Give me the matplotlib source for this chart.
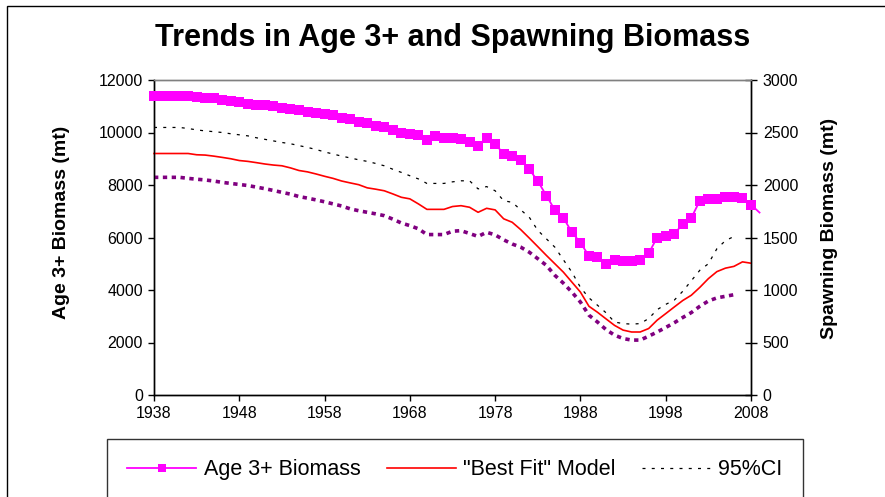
import matplotlib
matplotlib.use("Agg")
import matplotlib.pyplot as plt
from matplotlib.lines import Line2D
from matplotlib.patches import Rectangle
import numpy as np

plt.rcParams['font.family'] = ['Liberation Sans', 'DejaVu Sans']

# ---------------- data ----------------
title = "Trends in Age 3+ and Spawning Biomass"
left_label = "Age 3+ Biomass (mt)"
right_label = "Spawning Biomass (mt)"
x_ticks = [1938, 1948, 1958, 1968, 1978, 1988, 1998, 2008]
left_ticks = [0, 2000, 4000, 6000, 8000, 10000, 12000]
right_ticks = [0, 500, 1000, 1500, 2000, 2500, 3000]

age3_years = list(range(1938, 2010))
age3_biomass = [11400, 11400, 11400, 11400, 11400, 11350, 11300, 11300, 11250, 11200,
                11150, 11100, 11050, 11050, 11000, 10950, 10900, 10850, 10800, 10750,
                10700, 10650, 10550, 10500, 10400, 10350, 10250, 10200, 10100, 10000,
                9950, 9900, 9700, 9850, 9800, 9800, 9750, 9650, 9500, 9800,
                9550, 9200, 9100, 8950, 8600, 8150, 7600, 7050, 6750, 6200,
                5800, 5300, 5250, 5000, 5150, 5100, 5100, 5150, 5400, 6000,
                6050, 6150, 6500, 6750, 7400, 7450, 7450, 7550, 7550, 7500,
                7250, 6950]

model_years = list(range(1938, 2009))
best_fit = [2300, 2300, 2300, 2300, 2300, 2288, 2285, 2275, 2263, 2250,
            2233, 2225, 2213, 2200, 2190, 2183, 2163, 2138, 2125, 2105,
            2083, 2063, 2038, 2020, 2003, 1973, 1960, 1945, 1915, 1883,
            1868, 1820, 1768, 1768, 1768, 1795, 1803, 1788, 1740, 1778,
            1763, 1678, 1645, 1575, 1495, 1413, 1330, 1250, 1170, 1075,
            980, 845, 788, 725, 663, 618, 600, 600, 633, 713,
            775, 838, 900, 950, 1025, 1108, 1175, 1208, 1225, 1268,
            1255]

ci_years = list(range(1938, 2007))
ci_upper = [2548, 2548, 2548, 2548, 2538, 2525, 2515, 2508, 2500, 2488,
            2478, 2468, 2450, 2435, 2420, 2405, 2393, 2375, 2358, 2338,
            2315, 2295, 2275, 2258, 2240, 2225, 2205, 2183, 2150, 2120,
            2088, 2058, 2015, 2015, 2015, 2030, 2040, 2040, 1963, 1985,
            1945, 1850, 1835, 1763, 1693, 1568, 1488, 1408, 1288, 1170,
            1025, 925, 855, 783, 695, 680, 675, 680, 728, 813,
            863, 903, 988, 1088, 1188, 1250, 1393, 1470, 1510]
ci_lower = [2073, 2073, 2073, 2073, 2063, 2055, 2048, 2038, 2025, 2015,
            2005, 1995, 1980, 1965, 1948, 1930, 1913, 1890, 1875, 1858,
            1840, 1820, 1800, 1773, 1755, 1740, 1725, 1708, 1675, 1638,
            1613, 1583, 1528, 1528, 1528, 1560, 1565, 1538, 1510, 1550,
            1525, 1478, 1438, 1408, 1360, 1298, 1235, 1140, 1065, 980,
            885, 760, 695, 623, 570, 538, 523, 523, 560, 600,
            643, 688, 738, 785, 845, 895, 925, 940, 955]

legend_labels = ["Age 3+ Biomass", "\"Best Fit\" Model", "95%CI"]

# ---------------- figure ----------------
W, H = 885, 497
fig = plt.figure(figsize=(W / 100, H / 100), dpi=100)
fig.patch.set_facecolor('white')

# outer chart border
fig.patches.append(Rectangle((7 / W, -0.2), 1.2, 1 - 6 / H + 0.2, transform=fig.transFigure,
                             fill=False, edgecolor='black', linewidth=1.0, zorder=0))

L, R, T, B = 154, 751, 80, 395
ax = fig.add_axes([L / W, 1 - B / H, (R - L) / W, (B - T) / H])
ax2 = ax.twinx()

ax.plot(age3_years, age3_biomass, color='#FF00FF', linewidth=1.3, marker='s',
        markersize=6.5, markeredgewidth=0, markevery=list(range(len(age3_years) - 1)),
        clip_on=False, zorder=5)
ax2.plot(model_years, best_fit, color='#FF0000', linewidth=1.2, clip_on=False, zorder=4)
ax2.plot(ci_years, ci_upper, color='black', linewidth=0.9, linestyle=(0, (2.4, 5.0)), zorder=3)
ax2.plot(ci_years, ci_lower, color='#800080', linewidth=2.6, linestyle=(0, (1.2, 1.25)), zorder=3)

ax.set_xlim(1938, 2008)
ax.set_ylim(0, 12000)
ax2.set_ylim(0, 3000)
ax.set_xticks(x_ticks)
ax.set_yticks(left_ticks)
ax2.set_yticks(right_ticks)

for a in (ax, ax2):
    for s in a.spines.values():
        s.set_linewidth(1.0)
        s.set_color('black')
    a.spines['top'].set_color('#808080')
ax.tick_params(axis='both', direction='out', length=4, width=1, labelsize=11.5, pad=4)
ax2.tick_params(axis='y', direction='inout', length=9, width=1, labelsize=11.5, pad=4)
ax.set_zorder(ax2.get_zorder() + 1)
ax.patch.set_visible(False)

fig.text(453 / W, 1 - 38 / H, title, ha='center', va='center', fontsize=22, fontweight='bold')
fig.text(61 / W, 1 - 222 / H, left_label, rotation=90, ha='center', va='center',
         fontsize=14, fontweight='bold')
fig.text(829 / W, 1 - 228 / H, right_label, rotation=90, ha='center', va='center',
         fontsize=14, fontweight='bold')

handles = [Line2D([], [], color='#FF00FF', linewidth=1.3, marker='s', markersize=6.3, markeredgewidth=0),
           Line2D([], [], color='#FF0000', linewidth=1.2),
           Line2D([], [], color='black', linewidth=0.9, linestyle=(0, (2.4, 5.0)))]
leg = fig.legend(handles, legend_labels, loc='upper left',
                 bbox_to_anchor=(107 / W, 1 - 439 / H - 0.1, 696 / W, 0.1), mode='expand',
                 ncol=3, fontsize=15.5, frameon=True, fancybox=False, shadow=False,
                 borderpad=0.95, handlelength=3.2, handletextpad=0.35, columnspacing=1.0,
                 borderaxespad=0)
leg.get_frame().set_edgecolor('black')
leg.get_frame().set_linewidth(1.0)

fig.savefig('out.png', dpi=100, facecolor='white')
